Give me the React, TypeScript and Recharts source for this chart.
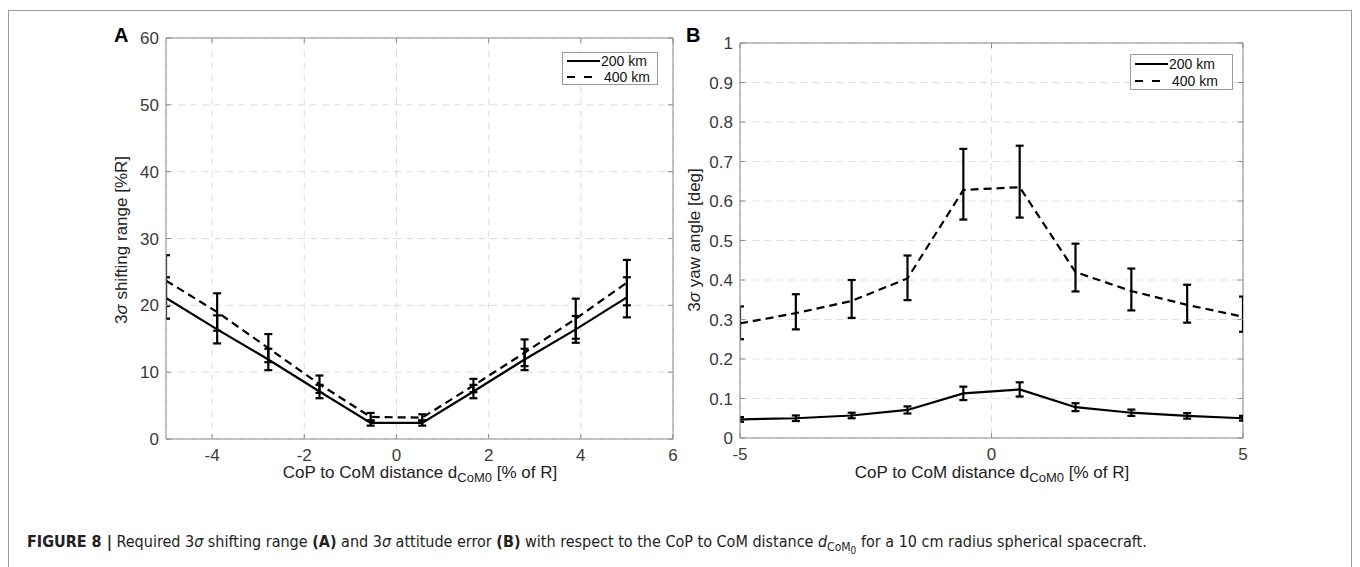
import React from 'react';
import { LineChart, Line, XAxis, YAxis, CartesianGrid, ErrorBar, ReferenceLine } from 'recharts';

// CoP to CoM distance [% of R]
const distances = [-5, -3.89, -2.78, -1.67, -0.56, 0.56, 1.67, 2.78, 3.89, 5];

// Panel A: 3σ shifting range [%R]
const shift200 = [21.1, 16.4, 11.9, 7.1, 2.4, 2.4, 7.1, 11.9, 16.4, 21.2];
const shift200Err = [3.1, 2.1, 1.6, 1.0, 0.4, 0.4, 1.0, 1.6, 2.0, 3.0];
const shift400 = [23.7, 19.0, 13.6, 8.2, 3.3, 3.2, 8.0, 12.9, 18.0, 23.4];
const shift400Err = [3.8, 2.8, 2.1, 1.3, 0.6, 0.5, 1.0, 2.0, 3.0, 3.4];

// Panel B: 3σ yaw angle [deg]
const yaw200 = [0.047, 0.05, 0.057, 0.071, 0.113, 0.123, 0.078, 0.064, 0.056, 0.05];
const yaw200Err = [0.006, 0.007, 0.007, 0.009, 0.017, 0.018, 0.01, 0.008, 0.007, 0.006];
const yaw400 = [0.29, 0.316, 0.347, 0.404, 0.628, 0.635, 0.42, 0.372, 0.337, 0.307];
const yaw400Lo = [0.04, 0.041, 0.043, 0.055, 0.075, 0.077, 0.049, 0.049, 0.045, 0.038];
const yaw400Hi = [0.043, 0.048, 0.053, 0.058, 0.104, 0.105, 0.072, 0.057, 0.051, 0.051];

const ticksAx = [-4, -2, 0, 2, 4, 6];
const ticksAy = [0, 10, 20, 30, 40, 50, 60];
const ticksBx = [-5, 0, 5];
const ticksBy = [0, 0.1, 0.2, 0.3, 0.4, 0.5, 0.6, 0.7, 0.8, 0.9, 1];

const dataA = distances.map((d, i) => ({
  d,
  v200: shift200[i],
  e200: shift200Err[i],
  v400: shift400[i],
  e400: shift400Err[i],
}));

const dataB = distances.map((d, i) => ({
  d,
  v200: yaw200[i],
  e200: yaw200Err[i],
  v400: yaw400[i],
  e400: [yaw400Lo[i], yaw400Hi[i]],
}));

const AXIS = '#8c8c8c';
const TICK = '#3a3a3a';
const GRID = '#dedede';
const FONT = '"Liberation Sans", Arial, Helvetica, sans-serif';

// plot box in svg coords
type Box = { left: number; right: number; top: number; bottom: number };

const makeXTick = (box: Box) => (props: any) => {
  const { x, payload } = props;
  return (
    <g>
      <line x1={x} x2={x} y1={box.bottom} y2={box.bottom - 5} stroke={AXIS} />
      <line x1={x} x2={x} y1={box.top} y2={box.top + 5} stroke={AXIS} />
      <text x={x} y={box.bottom + 22} textAnchor="middle" fill={TICK} fontSize={17} fontFamily={FONT}>
        {String(payload.value)}
      </text>
    </g>
  );
};

const makeYTick = (box: Box) => (props: any) => {
  const { y, payload } = props;
  return (
    <g>
      <line x1={box.left} x2={box.left + 5} y1={y} y2={y} stroke={AXIS} />
      <line x1={box.right} x2={box.right - 5} y1={y} y2={y} stroke={AXIS} />
      <text x={box.left - 7} y={y + 6} textAnchor="end" fill={TICK} fontSize={17} fontFamily={FONT}>
        {String(payload.value)}
      </text>
    </g>
  );
};

const LegendBox = ({ left, top, width, height, rows }: { left: number; top: number; width: number; height: number; rows: number[] }) => (
  <div
    style={{
      position: 'absolute',
      left,
      top,
      width,
      height,
      border: '1px solid #9a9a9a',
      background: '#fff',
      boxSizing: 'border-box',
    }}
  >
    {['200 km', '400 km'].map((label, i) => (
      <div
        key={label}
        style={{ position: 'absolute', left: 4, top: rows[i] - 7, height: 14, display: 'flex', alignItems: 'center', whiteSpace: 'nowrap' }}
      >
        <svg width={33} height={14} style={{ flex: 'none' }}>
          <line x1={0} x2={33} y1={7} y2={7} stroke="#000" strokeWidth={2} strokeDasharray={i === 1 ? '8 9' : undefined} />
        </svg>
        <span style={{ fontSize: 14, lineHeight: '14px', color: '#111', marginLeft: i === 1 ? 4 : 1, fontFamily: FONT }}>{label}</span>
      </div>
    ))}
  </div>
);

const XLabel = ({ cx }: { cx: number }) => (
  <div
    style={{
      position: 'absolute',
      left: cx - 250,
      width: 500,
      top: 463,
      lineHeight: '20px',
      textAlign: 'center',
      fontSize: 17,
      color: '#222',
      fontFamily: FONT,
      whiteSpace: 'nowrap',
    }}
  >
    CoP to CoM distance d<sub style={{ fontSize: 13, lineHeight: 0 }}>CoM0</sub> [% of R]
  </div>
);

const YLabel = ({ cx, cy, children }: { cx: number; cy: number; children: React.ReactNode }) => (
  <div
    style={{
      position: 'absolute',
      left: cx - 150,
      top: cy - 11,
      width: 300,
      height: 22,
      textAlign: 'center',
      transform: 'rotate(-90deg)',
      fontSize: 17,
      color: '#222',
      fontFamily: FONT,
      whiteSpace: 'nowrap',
    }}
  >
    {children}
  </div>
);

const boxA: Box = { left: 66, right: 573, top: 18, bottom: 419 };
const boxB: Box = { left: 40, right: 543, top: 23, bottom: 418 };

// clip series to the plot box, as the original plotting tool does
const clipCss = `
.panelA .recharts-errorBar, .panelA .recharts-line-curve { clip-path: url(#plotClipA); }
.panelB .recharts-errorBar, .panelB .recharts-line-curve { clip-path: url(#plotClipB); }
`;

const App: React.FC = () => {
  return (
    <div style={{ position: 'absolute', left: 0, top: 0, width: 1360, height: 567, background: '#fff', overflow: 'hidden', fontFamily: FONT }}>
      <style>{clipCss}</style>
      <svg width={0} height={0} style={{ position: 'absolute' }}>
        <defs>
          <clipPath id="plotClipA" clipPathUnits="userSpaceOnUse">
            <rect x={boxA.left} y={boxA.top} width={boxA.right - boxA.left} height={boxA.bottom - boxA.top} />
          </clipPath>
          <clipPath id="plotClipB" clipPathUnits="userSpaceOnUse">
            <rect x={boxB.left} y={boxB.top} width={boxB.right - boxB.left} height={boxB.bottom - boxB.top} />
          </clipPath>
        </defs>
      </svg>

      {/* figure frame */}
      <div style={{ position: 'absolute', left: 8, top: 10, width: 1344, height: 600, border: '1.5px solid #9a9a9a', boxSizing: 'border-box' }} />

      {/* Panel A */}
      <div className="panelA" style={{ position: 'absolute', left: 100, top: 20 }}>
        <LineChart width={600} height={470} data={dataA} margin={{ top: 18, right: 27, left: 0, bottom: 0 }}>
          <CartesianGrid stroke={GRID} strokeDasharray="7 5" />
          <XAxis
            dataKey="d"
            type="number"
            domain={[-5, 6]}
            ticks={ticksAx}
            allowDataOverflow
            height={51}
            tickSize={0}
            tickLine={false}
            stroke={AXIS}
            tick={makeXTick(boxA)}
            interval={0}
          />
          <YAxis
            type="number"
            domain={[0, 60]}
            ticks={ticksAy}
            allowDataOverflow
            width={66}
            tickSize={0}
            tickLine={false}
            stroke={AXIS}
            tick={makeYTick(boxA)}
            interval={0}
          />
          <ReferenceLine y={60} stroke={AXIS} />
          <ReferenceLine x={6} stroke={AXIS} />
          <Line type="linear" dataKey="v200" stroke="#000" strokeWidth={2.2} dot={false} isAnimationActive={false}>
            <ErrorBar dataKey="e200" width={4} strokeWidth={2.2} stroke="#000" direction="y" />
          </Line>
          <Line type="linear" dataKey="v400" stroke="#000" strokeWidth={2.2} strokeDasharray="8 5" dot={false} isAnimationActive={false}>
            <ErrorBar dataKey="e400" width={4} strokeWidth={2.2} stroke="#000" direction="y" />
          </Line>
        </LineChart>
      </div>

      {/* Panel B */}
      <div className="panelB" style={{ position: 'absolute', left: 700, top: 20 }}>
        <LineChart width={560} height={470} data={dataB} margin={{ top: 23, right: 17, left: 0, bottom: 0 }}>
          <CartesianGrid stroke={GRID} strokeDasharray="7 5" />
          <XAxis
            dataKey="d"
            type="number"
            domain={[-5, 5]}
            ticks={ticksBx}
            allowDataOverflow
            height={52}
            tickSize={0}
            tickLine={false}
            stroke={AXIS}
            tick={makeXTick(boxB)}
            interval={0}
          />
          <YAxis
            type="number"
            domain={[0, 1]}
            ticks={ticksBy}
            allowDataOverflow
            width={40}
            tickSize={0}
            tickLine={false}
            stroke={AXIS}
            tick={makeYTick(boxB)}
            interval={0}
          />
          <ReferenceLine y={1} stroke={AXIS} />
          <ReferenceLine x={5} stroke={AXIS} />
          <Line type="linear" dataKey="v200" stroke="#000" strokeWidth={2.2} dot={false} isAnimationActive={false}>
            <ErrorBar dataKey="e200" width={4} strokeWidth={2.2} stroke="#000" direction="y" />
          </Line>
          <Line type="linear" dataKey="v400" stroke="#000" strokeWidth={2.2} strokeDasharray="8 5" dot={false} isAnimationActive={false}>
            <ErrorBar dataKey="e400" width={4} strokeWidth={2.2} stroke="#000" direction="y" />
          </Line>
        </LineChart>
      </div>

      {/* panel letters */}
      <div style={{ position: 'absolute', left: 114, top: 24, fontSize: 20, fontWeight: 'bold', color: '#000' }}>A</div>
      <div style={{ position: 'absolute', left: 686, top: 24, fontSize: 20, fontWeight: 'bold', color: '#000' }}>B</div>

      {/* axis labels */}
      <YLabel cx={123} cy={240}>
        3<i>σ</i> shifting range [%R]
      </YLabel>
      <YLabel cx={696} cy={240}>
        3<i>σ</i> yaw angle [deg]
      </YLabel>
      <XLabel cx={420} />
      <XLabel cx={992} />

      {/* legends */}
      <LegendBox left={562} top={52} width={96} height={33} rows={[8, 24]} />
      <LegendBox left={1130} top={54} width={103} height={36} rows={[9, 26]} />

      {/* caption */}
      <div
        style={{
          position: 'absolute',
          left: 27,
          top: 532,
          fontSize: 16,
          lineHeight: '20px',
          color: '#222',
          fontFamily: '"Liberation Sans Narrow", "DejaVu Sans Condensed", Arial, sans-serif',
          whiteSpace: 'nowrap',
        }}
      >
        <b>FIGURE 8 |</b> Required 3<i>σ</i> shifting range <b>(A)</b> and 3<i>σ</i> attitude error <b>(B)</b> with respect to the CoP to CoM
        distance <i>d</i>
        <sub style={{ fontSize: 12, lineHeight: 0 }}>
          CoM<sub style={{ fontSize: 10, lineHeight: 0 }}>0</sub>
        </sub>{' '}
        for a 10 cm radius spherical spacecraft.
      </div>
    </div>
  );
};

export default App;
